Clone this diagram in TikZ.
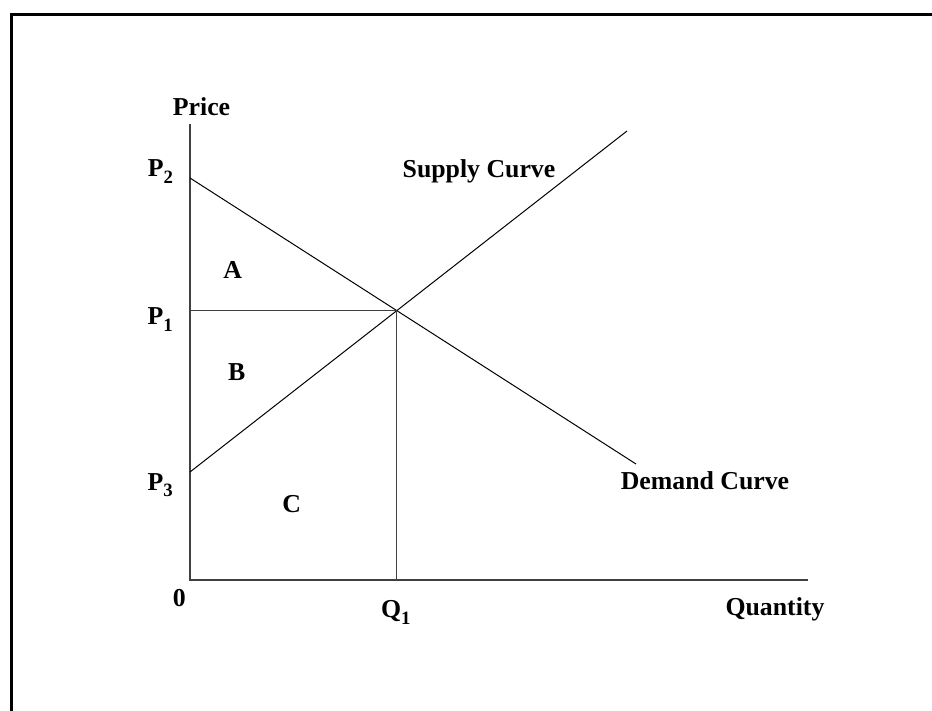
\documentclass[tikz,border=0pt]{standalone}
\usepackage{fontspec}
\setmainfont{Liberation Serif}
\usetikzlibrary{positioning}
\newcommand{\lowsub}[1]{\raisebox{-3.3pt}{\fontsize{9.4}{10}\selectfont #1}}
\tikzset{
  framebox/.style={line width=1.5pt, draw=black},
  axisline/.style={line width=0.6pt, draw=black!75},
  curveline/.style={line width=0.5pt, draw=black},
  lbl/.style={font=\fontsize{12.9}{15}\selectfont\bfseries, inner sep=0pt, anchor=base},
  lblw/.style={lbl, anchor=base west}
}

\begin{document}
\begin{tikzpicture}[x=0.5pt, y=-0.5pt]
\useasboundingbox (0,0) rectangle (932,711);
% outer frame, runs off the page right and below
\coordinate (fbl) at (11,711);
\coordinate (ftl) at (11,14.7);
\coordinate (ftr) at (932,14.7);
\draw[framebox] (fbl) -- (ftl) -- (ftr);

% axes
\coordinate (O) at (190,580);
\coordinate (ytop) at (190,124);
\coordinate (xend) at (808,580);
\draw[axisline] (ytop) -- (O) -- (xend);

% curves
\coordinate (ptwopt) at (190,178);
\coordinate (dend) at (636,464);
\coordinate (pthreept) at (190,472);
\coordinate (send) at (627,131);
\draw[curveline] (ptwopt) -- (dend);
\draw[curveline] (pthreept) -- (send);
\coordinate (E) at (intersection of ptwopt--dend and pthreept--send);
\draw[axisline] (O |- E) -- (E) -- (E |- O);

% labels
\node[lbl] (price) at (201.5,116) {Price};
\node[lblw] (ptwo) at (147.5,176.7) {P\lowsub{2}};
\node[lblw] (pone) at (147.3,325) {P\lowsub{1}};
\node[lblw] (pthree) at (147.3,490) {P\lowsub{3}};
\node[lbl] (areaA) at (232.7,278.3) {A};
\node[lbl] (areaB) at (236.7,380) {B};
\node[lbl] (areaC) at (291.7,512.7) {C};
\node[lbl] (zero) at (179.3,606.7) {0};
\node[lblw] (qone) at (380.7,617.7) {Q\lowsub{1}};
\node[lbl] (qty) at (775,615) {Quantity};
\node[lbl] (supply) at (479,178) {Supply Curve};
\node[lbl] (demand) at (705,489.3) {Demand Curve};
\end{tikzpicture}
\end{document}
